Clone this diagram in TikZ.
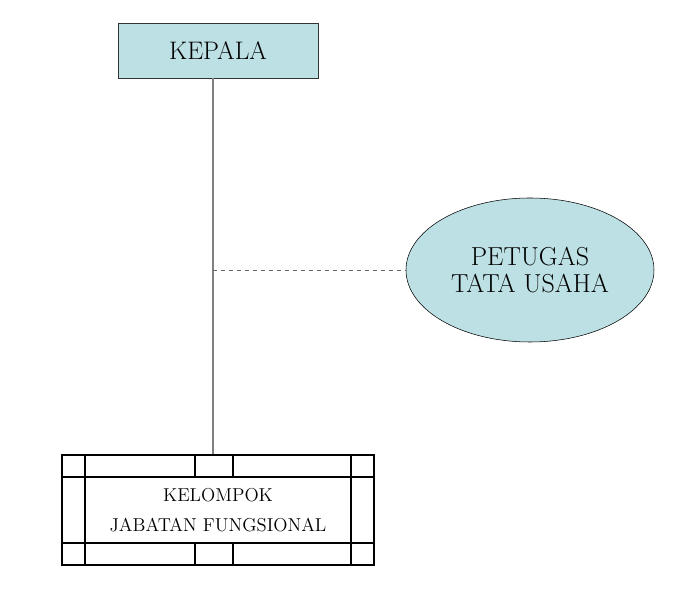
\documentclass[tikz,border=0pt]{standalone}
\usepackage{xcolor}
\usepackage{tikz}
\usetikzlibrary{positioning,calc,shapes.geometric}
\definecolor{tosca}{HTML}{BCE0E4}
\tikzset{
  obox/.style={draw=black!80, fill=tosca, minimum width=150pt, minimum height=41.25pt, inner sep=0pt, font=\fontsize{19}{22}\selectfont},
  oellipse/.style={draw, ellipse, fill=tosca, minimum width=186pt, minimum height=108pt, inner sep=0pt, align=center, font=\fontsize{19.5}{20}\selectfont},
  ogroup/.style={draw, line width=2.1pt, minimum width=234pt, minimum height=82.5pt, inner sep=0pt, align=center, font=\fontsize{14}{23}\selectfont},
  ogrid/.style={line width=0.8pt},
  oline/.style={draw=black!50, line width=0.8pt},
  odash/.style={draw=black!60, line width=0.7pt, dashed}
}
\begin{document}
\begin{tikzpicture}[x=0.75pt,y=-0.75pt]
\useasboundingbox (0,0) rectangle (676,591);
\node[obox] (kepala) at (218,50.5) {KEPALA};
\node[oellipse] (tu) at (530,270) {PETUGAS\\TATA USAHA};
\node[ogroup] (kjf) at (218,510) {KELOMPOK\\JABATAN FUNGSIONAL};
\coordinate (trunk) at (213,270);

% grid inside the group box
\draw[ogrid] (62,477) -- (374,477);
\draw[ogrid] (62,543) -- (374,543);
\draw[ogrid] (85,455) -- (85,565);
\draw[ogrid] (351,455) -- (351,565);
\foreach \x in {195,233} {
  \draw[ogrid] (\x,455) -- (\x,477);
  \draw[ogrid] (\x,543) -- (\x,565);
}

\draw[oline] (trunk |- kepala.south) -- (trunk |- kjf.north);
\draw[odash] (trunk) -- (tu.west);
\end{tikzpicture}
\end{document}
